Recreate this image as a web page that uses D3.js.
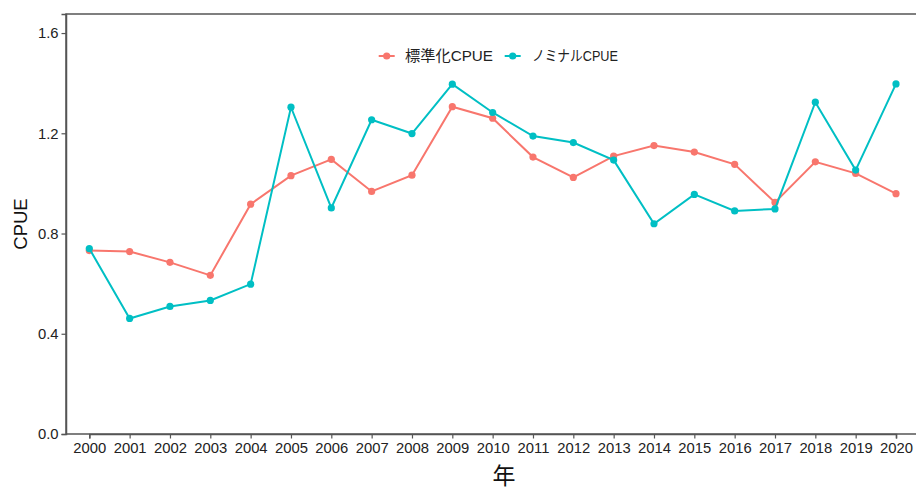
<!DOCTYPE html>
<html>
<head>
<meta charset="utf-8">
<script src="https://cdn.jsdelivr.net/npm/d3@7"></script>
<style>
  html, body { margin: 0; padding: 0; background: #fff; }
  svg { display: block; }
  text { font-family: "Liberation Sans", Arial, "Noto Sans CJK JP", sans-serif; }
</style>
</head>
<body>
<svg id="chart" width="916" height="491"></svg>
<script>
const years = ["2000","2001","2002","2003","2004","2005","2006","2007","2008","2009","2010",
               "2011","2012","2013","2014","2015","2016","2017","2018","2019","2020"];
const standardized = [0.732,0.728,0.685,0.633,0.917,1.031,1.096,0.968,1.033,1.306,1.260,
                      1.105,1.024,1.109,1.151,1.125,1.076,0.924,1.086,1.040,0.959];
const nominal = [0.740,0.461,0.509,0.533,0.598,1.304,0.902,1.254,1.199,1.396,1.283,
                 1.189,1.163,1.093,0.839,0.956,0.890,0.898,1.324,1.053,1.397];
const yTicks = [0.0, 0.4, 0.8, 1.2, 1.6];
const seriesNames = ["標準化CPUE", "ノミナルCPUE"];
const seriesColors = ["#F8766D", "#00BFC4"];
const xTitle = "年";
const yTitle = "CPUE";

const svg = d3.select("#chart");
const panel = { left: 66, top: 14, right: 920, bottom: 434 };

const x = d3.scalePoint().domain(years).range([89.3, 896]);
const y = d3.scaleLinear().domain([0, 1.676]).range([panel.bottom, panel.top]);

// panel border (left + top visible)
svg.append("rect")
  .attr("x", panel.left).attr("y", panel.top)
  .attr("width", panel.right - panel.left).attr("height", panel.bottom - panel.top)
  .attr("fill", "none").attr("stroke", "#555").attr("stroke-width", 1.5);

// axes
const xAxis = svg.append("g")
  .attr("transform", `translate(0,${panel.bottom})`)
  .call(d3.axisBottom(x).tickSize(4.5).tickPadding(4));
const yAxis = svg.append("g")
  .attr("transform", `translate(${panel.left},0)`)
  .call(d3.axisLeft(y).tickValues(yTicks).tickFormat(d3.format(".1f")).tickSize(4.5).tickPadding(3));

[xAxis, yAxis].forEach(g => {
  g.select(".domain").attr("stroke", "#555").attr("stroke-width", 1.5);
  g.selectAll(".tick line").attr("stroke", "#555").attr("stroke-width", 1.2);
  g.selectAll(".tick text").attr("fill", "#222").style("font-size", "14.8px")
    .style("font-family", '"Liberation Sans", Arial, sans-serif');
});

// series
const data = [standardized, nominal];
const line = d3.line().x((d, i) => x(years[i])).y(d => y(d));
data.forEach((vals, s) => {
  svg.append("path")
    .datum(vals)
    .attr("d", line)
    .attr("fill", "none")
    .attr("stroke", seriesColors[s])
    .attr("stroke-width", 2);
  svg.append("g").selectAll("circle")
    .data(vals)
    .join("circle")
    .attr("cx", (d, i) => x(years[i]))
    .attr("cy", d => y(d))
    .attr("r", 3.6)
    .attr("fill", seriesColors[s]);
});

// legend
const legendItems = [
  { lx: 386.7, tx: 405, w: 88 },
  { lx: 512.7, tx: 532, w: 86 }
];
const ly = 56;
legendItems.forEach((it, s) => {
  svg.append("line")
    .attr("x1", it.lx - 8).attr("x2", it.lx + 8)
    .attr("y1", ly).attr("y2", ly)
    .attr("stroke", seriesColors[s]).attr("stroke-width", 2);
  svg.append("circle")
    .attr("cx", it.lx).attr("cy", ly).attr("r", 3.6)
    .attr("fill", seriesColors[s]);
  svg.append("text")
    .attr("x", it.tx).attr("y", ly)
    .attr("dy", "0.36em")
    .attr("fill", "#222")
    .attr("textLength", it.w)
    .attr("lengthAdjust", "spacingAndGlyphs")
    .style("font-size", "14.5px")
    .text(seriesNames[s]);
});

// axis titles
svg.append("text")
  .attr("x", 504).attr("y", 484)
  .attr("text-anchor", "middle")
  .attr("fill", "#111")
  .style("font-family", '"Noto Sans CJK JP", sans-serif')
  .style("font-size", "23px")
  .text(xTitle);

svg.append("text")
  .attr("transform", `translate(27,${(panel.top + panel.bottom) / 2}) rotate(-90)`)
  .attr("text-anchor", "middle")
  .attr("fill", "#111")
  .style("font-size", "18.5px")
  .text(yTitle);
</script>
</body>
</html>
